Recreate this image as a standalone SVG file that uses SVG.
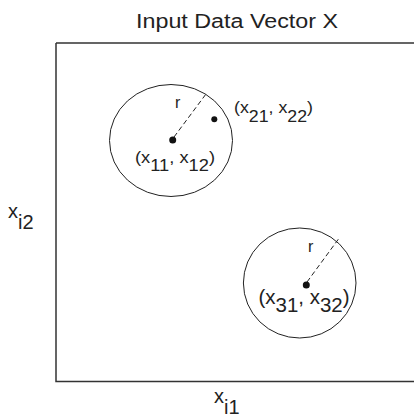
<svg xmlns="http://www.w3.org/2000/svg" width="414" height="417" viewBox="0 0 414 417">
<style>
text{font-family:"Liberation Sans",Arial,sans-serif;fill:#222}
.ell{fill:none;stroke:#222;stroke-width:1}
.dash{fill:none;stroke:#222;stroke-width:1;stroke-dasharray:5 3}
.dot{fill:#111}
.frame{fill:none;stroke:#333;stroke-width:1.5}
</style>
<rect width="414" height="417" fill="#fff"/>
<path class="frame" d="M56,43 H414 M56,43 V381.5 H414"/>
<text id="title" x="136" y="28" font-size="20" textLength="202" lengthAdjust="spacingAndGlyphs">Input Data Vector X</text>
<g id="axis-y"><text x="8" y="218" font-size="20">x<tspan dy="11">i2</tspan></text></g>
<g id="axis-x"><text x="214" y="403" font-size="20">x<tspan dy="11">i1</tspan></text></g>
<g id="connectors">
<line class="dash" x1="174" y1="137" x2="206" y2="94"/>
<line class="dash" x1="307" y1="282" x2="338.5" y2="239"/>
</g>
<g id="cluster1">
<ellipse class="ell" cx="171" cy="140.5" rx="61.5" ry="56"/>
<circle class="dot" cx="172.7" cy="140" r="3.5"/>
<text x="175" y="108" font-size="16">r</text>
<text x="135" y="163" font-size="17" textLength="80" lengthAdjust="spacingAndGlyphs">(x<tspan dy="8">11</tspan><tspan dy="-8">,</tspan> x<tspan dy="8">12</tspan><tspan dy="-8">)</tspan></text>
</g>
<g id="point2">
<circle class="dot" cx="214.3" cy="119.3" r="3"/>
<text x="234" y="113" font-size="17" textLength="79" lengthAdjust="spacingAndGlyphs">(x<tspan dy="9">21</tspan><tspan dy="-9">,</tspan> x<tspan dy="9">22</tspan><tspan dy="-9">)</tspan></text>
</g>
<g id="cluster3">
<ellipse class="ell" cx="299.7" cy="283" rx="56.3" ry="55"/>
<circle class="dot" cx="306.3" cy="285" r="3.5"/>
<text x="308" y="252" font-size="16">r</text>
<text x="258.5" y="304" font-size="20" textLength="91" lengthAdjust="spacingAndGlyphs">(x<tspan dy="8">31</tspan><tspan dy="-8">,</tspan> x<tspan dy="8">32</tspan><tspan dy="-8">)</tspan></text>
</g>
</svg>
